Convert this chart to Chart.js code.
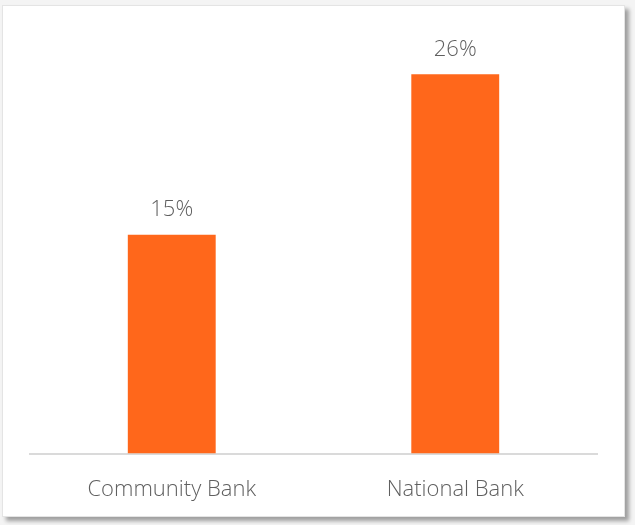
<!DOCTYPE html>
<html>
<head>
<meta charset="utf-8">
<script src="https://cdn.jsdelivr.net/npm/chart.js@4"></script>
<style>
  html, body { margin: 0; padding: 0; background: #f4f4f4; }
  #card {
    position: absolute;
    left: 2px; top: 5px;
    width: 621px; height: 510px;
    background: #ffffff;
    border: 1px solid #e4e4e4;
    box-shadow: 4px 4px 4px rgba(0, 0, 0, 0.35);
  }
  #chart { display: block; position: absolute; left: 0; top: 0; }
</style>
</head>
<body>
<div id="card"><canvas id="chart" width="621" height="535"></canvas></div>
<script>
  const categories = ["Community Bank", "National Bank"];
  const shares = [15, 26];
  const shareLabels = ["15%", "26%"];

  const textColor = "#5f5f5f";
  const fontFamily = "'Open Sans', Lato, sans-serif";

  // writes the percentage above each bar
  const valueLabels = {
    id: "valueLabels",
    afterDatasetsDraw(chart) {
      const ctx = chart.ctx;
      const meta = chart.getDatasetMeta(0);
      ctx.save();
      ctx.font = "300 22px " + fontFamily;
      ctx.fillStyle = textColor;
      ctx.textAlign = "center";
      ctx.textBaseline = "middle";
      meta.data.forEach((bar, i) => {
        ctx.fillText(shareLabels[i], bar.x, bar.y - 25);
      });
      ctx.restore();
    }
  };

  const ctx = document.getElementById("chart").getContext("2d");
  new Chart(ctx, {
    type: "bar",
    data: {
      labels: categories,
      datasets: [{
        data: shares,
        backgroundColor: "#ff671b",
        borderWidth: 0,
        barPercentage: 0.31,
        categoryPercentage: 1
      }]
    },
    options: {
      responsive: false,
      animation: false,
      layout: { padding: { left: 27, right: 27, top: 10, bottom: 15 } },
      plugins: {
        legend: { display: false },
        tooltip: { enabled: false }
      },
      scales: {
        x: {
          grid: { display: false, drawTicks: false },
          border: { display: true, color: "#dadada", width: 2 },
          ticks: {
            padding: 23,
            color: textColor,
            font: { family: fontFamily, size: 22, weight: 300 }
          }
        },
        y: {
          display: false,
          min: 0,
          max: 30
        }
      }
    },
    plugins: [valueLabels]
  });
</script>
</body>
</html>
